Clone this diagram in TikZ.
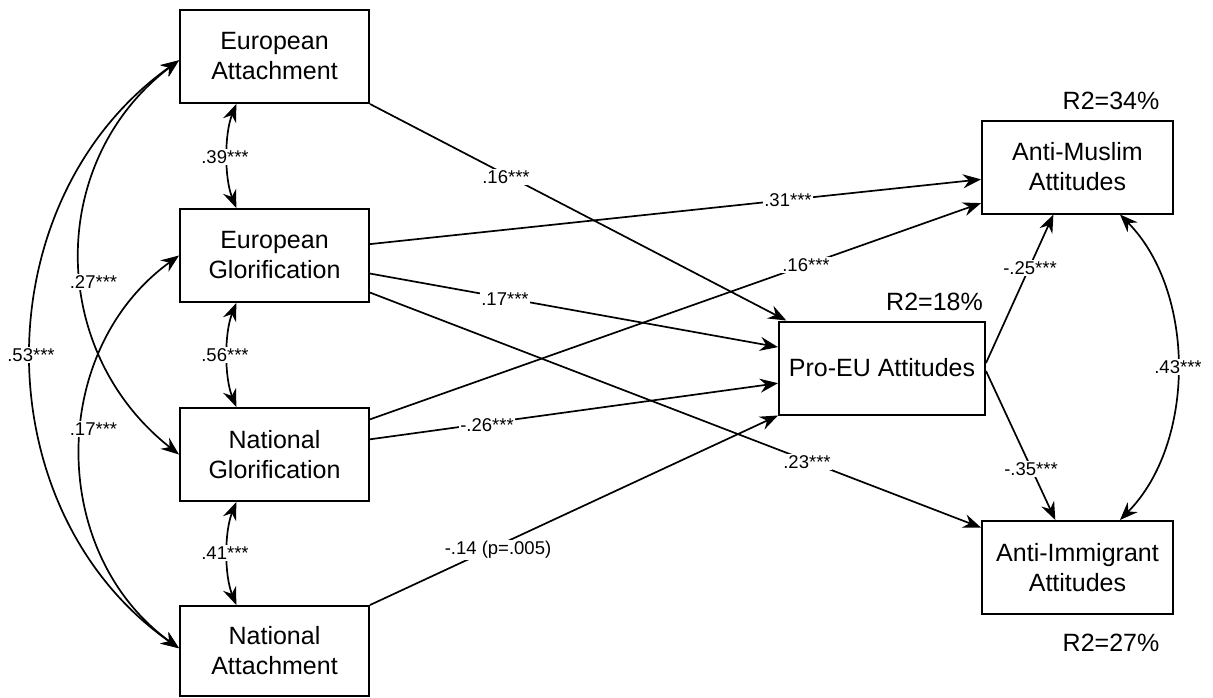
\documentclass[tikz,border=0pt]{standalone}
\usepackage{fontspec}
\setmainfont{Liberation Sans}
\usetikzlibrary{arrows.meta,calc}
\begin{document}
\begin{tikzpicture}[x=1pt,y=-1pt,
  box/.style={draw, line width=2pt, align=center, inner sep=0pt,
    font=\fontsize{25}{30}\selectfont},
  lbox/.style={box, minimum width=189pt, minimum height=93pt},
  rbox/.style={box, minimum width=191pt, minimum height=93pt},
  conn/.style={line width=1.7pt, -{Stealth[length=18pt,width=14pt,inset=6pt]}},
  corr/.style={line width=1.7pt, {Stealth[length=18pt,width=14pt,inset=6pt]}-{Stealth[length=18pt,width=14pt,inset=6pt]}},
  coef/.style={fill=white, inner sep=1.5pt, font=\fontsize{18.5}{20}\selectfont},
  rsq/.style={inner sep=0pt, font=\fontsize{25}{30}\selectfont}]
\useasboundingbox (0,0) rectangle (1213,697);

% latent predictors
\node[lbox] (EA) at (274.5,56.5) {European\\Attachment};
\node[lbox] (EG) at (274.5,255.5) {European\\Glorification};
\node[lbox] (NG) at (274.5,454.5) {National\\Glorification};
\node[lbox, minimum height=90pt] (NA) at (274.5,651) {National\\Attachment};

% mediator and outcomes
\node[box, minimum width=206pt, minimum height=93pt] (PEU) at (882,368) {Pro-EU Attitudes};
\node[rbox] (AM) at (1077.5,167) {Anti-Muslim\\Attitudes};
\node[rbox] (AI) at (1077.5,567.5) {Anti-Immigrant\\Attitudes};

% explained variance
\node[rsq] (r2am) at (1111,101) {R2=34\%};
\node[rsq] (r2peu) at (934.5,302) {R2=18\%};
\node[rsq] (r2ai) at (1111,643) {R2=27\%};

% regression paths
\draw[conn] (EA.south east) -- ($(PEU.north west)!0.04!(PEU.north east)$);
\draw[conn] ($(EG.north east)!0.38!(EG.south east)$) -- ($(AM.north west)!0.63!(AM.south west)$);
\draw[conn] ($(EG.north east)!0.69!(EG.south east)$) -- ($(PEU.north west)!0.28!(PEU.south west)$);
\draw[conn] ($(EG.north east)!0.89!(EG.south east)$) -- ($(AI.north west)!0.08!(AI.south west)$);
\draw[conn] ($(NG.north east)!0.13!(NG.south east)$) -- ($(AM.north west)!0.88!(AM.south west)$);
\draw[conn] ($(NG.north east)!0.34!(NG.south east)$) -- ($(PEU.north west)!0.66!(PEU.south west)$);
\draw[conn] (NA.north east) -- (PEU.south west);
\draw[conn] ($(PEU.east)+(0,-5)$) -- ($(AM.south west)!0.375!(AM.south east)$);
\draw[conn] ($(PEU.east)+(0,3)$) -- ($(AI.north west)!0.385!(AI.north east)$);

% covariances
\draw[corr] ($(EA.south west)!0.3!(EA.south east)$) .. controls +(-12,30) and +(-12,-30) .. ($(EG.north west)!0.3!(EG.north east)$);
\draw[corr] ($(EG.south west)!0.3!(EG.south east)$) .. controls +(-12,30) and +(-12,-30) .. ($(NG.north west)!0.3!(NG.north east)$);
\draw[corr] ($(NG.south west)!0.3!(NG.south east)$) .. controls +(-12,30) and +(-12,-30) .. ($(NA.north west)!0.3!(NA.north east)$);
\draw[corr] ($(EA.north west)!0.54!(EA.south west)$) .. controls +(-132,100) and +(-132,-104) .. (NG.west);
\draw[corr] (EG.west) .. controls +(-131,95) and +(-131,-95) .. ($(NA.north west)!0.47!(NA.south west)$);
\draw[corr] ($(EA.north west)!0.54!(EA.south west)$) .. controls +(-197,140) and +(-197,-138) .. ($(NA.north west)!0.47!(NA.south west)$);
\draw[corr] ($(AM.south west)!0.72!(AM.south east)$) .. controls +(76,77) and +(76,-77) .. ($(AI.north west)!0.72!(AI.north east)$);

% coefficients
\node[coef] (c01) at (506,177) {.16***};
\node[coef] (c02) at (788,200) {.31***};
\node[coef] (c03) at (505,299) {.17***};
\node[coef] (c04) at (807,462) {.23***};
\node[coef] (c05) at (806,265) {.16***};
\node[coef] (c06) at (487,425) {-.26***};
\node[coef] (c07) at (498,550) {-.14 (p=.005)};
\node[coef] (c08) at (1030,268) {-.25***};
\node[coef] (c09) at (1031,469) {-.35***};
\node[coef] (c10) at (1178,367) {.43***};
\node[coef] (c11) at (225,157) {.39***};
\node[coef] (c12) at (225,355) {.56***};
\node[coef] (c13) at (225,553) {.41***};
\node[coef] (c14) at (93.5,282) {.27***};
\node[coef] (c15) at (93.5,429) {.17***};
\node[coef] (c16) at (31,355) {.53***};
\end{tikzpicture}
\end{document}
